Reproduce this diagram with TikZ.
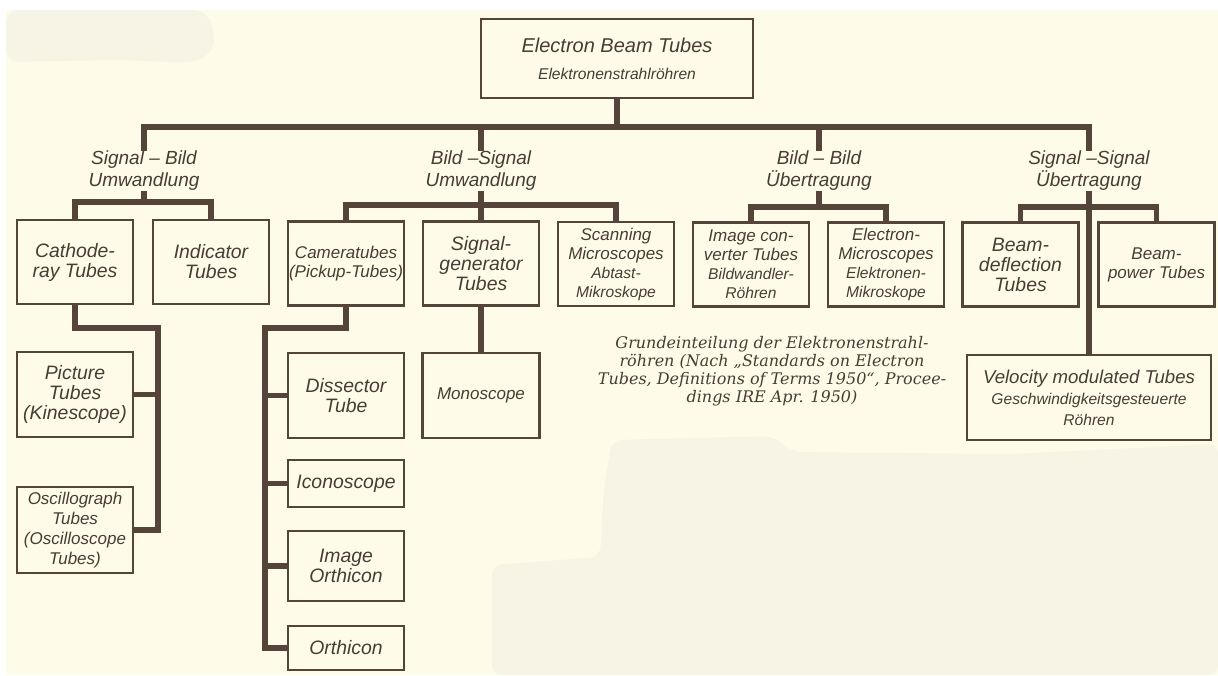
\documentclass[tikz,border=0pt]{standalone}
\usepackage{fontspec}
\setmainfont{Liberation Sans}
\newfontfamily\capfont{DejaVu Serif}
\definecolor{ink}{HTML}{54443A}
\definecolor{lettering}{HTML}{483C35}
\definecolor{paper}{HTML}{FEFCE9}
\definecolor{stain}{HTML}{F7F4E5}
\newcommand{\subtxt}[1]{{\fontsize{7.8}{9}\selectfont #1}}
\begin{document}
\begin{tikzpicture}
	[x=0.5pt,y=-0.5pt,
	tube/.style={draw=ink,line width=1.1pt,align=center,inner sep=0pt,text=lettering,minimum width=58pt,minimum height=42pt,font=\fontsize{9.7}{10}\selectfont\itshape},
	packed/.style={font=\fontsize{8.5}{9.5}\selectfont\itshape},
	group/.style={align=center,inner sep=0pt,text=lettering,font=\fontsize{9.5}{11}\selectfont\itshape},
	conn/.style={draw=ink,line width=2.6pt}]
	% paper
	\fill[white] (0,0) rectangle (1218,675);
	\fill[paper] (6,10) rectangle (1218,675);
	\fill[stain,rounded corners=6pt] (6,10) -- (205,10) -- (215,30) -- (212,55) -- (190,63) -- (120,60) -- (6,62) -- cycle;
	\fill[stain,rounded corners=5pt] (612,440) -- (773,436) -- (792,452) -- (1010,454) -- (1218,444) -- (1218,675) -- (492,675) -- (492,565) -- (600,557) -- (604,487) -- cycle;
	\useasboundingbox (0,0) rectangle (1218,675);
	% boxes
	\node[tube,name=top,minimum width=136pt,minimum height=39.5pt,font=\fontsize{10}{13.5}\selectfont\itshape] at (617,58.5) {Electron Beam Tubes\\\subtxt{Elektronenstrahlröhren}};
	\node[group,name=sigbild] at (144,171) {Signal -- Bild\\Umwandlung};
	\node[group,name=bildsig] at (481,171) {Bild --Signal\\Umwandlung};
	\node[group,name=bildbild] at (819,171) {Bild -- Bild\\Übertragung};
	\node[group,name=sigsig] at (1089,171) {Signal --Signal\\Übertragung};
	\node[tube,name=cathode] at (75,262) {Cathode-\\ray Tubes};
	\node[tube,name=indicator] at (211,262) {Indicator\\Tubes};
	\node[tube,name=camera,packed] at (346,263.5) {Cameratubes\\(Pickup-Tubes)};
	\node[tube,name=siggen] at (481,263.5) {Signal-\\generator\\Tubes};
	\node[tube,name=scanning,packed] at (616,264) {Scanning\\Microscopes\\\subtxt{Abtast-}\\\subtxt{Mikroskope}};
	\node[tube,name=imgconv,packed] at (751,264.5) {Image con-\\verter Tubes\\\subtxt{Bildwandler-}\\\subtxt{Röhren}};
	\node[tube,name=elmicro,packed] at (886,264.5) {Electron-\\Microscopes\\\subtxt{Elektronen-}\\\subtxt{Mikroskope}};
	\node[tube,name=beamdefl] at (1020.5,264.5) {Beam-\\deflection\\Tubes};
	\node[tube,name=beampower,packed] at (1156.5,264.5) {Beam-\\power Tubes};
	\node[tube,name=picture,minimum height=42.5pt] at (75,394.5) {Picture\\Tubes\\(Kinescope)};
	\node[tube,name=oscillo,minimum height=43pt,packed,font=\fontsize{8.5}{10}\selectfont\itshape] at (75,530) {Oscillograph\\Tubes\\(Oscilloscope\\Tubes)};
	\node[tube,name=dissector,minimum height=42.5pt] at (346,395.5) {Dissector\\Tube};
	\node[tube,name=iconoscope,minimum height=23.5pt] at (346,483.5) {Iconoscope};
	\node[tube,name=imgorth,minimum height=35pt] at (346,566) {Image\\Orthicon};
	\node[tube,name=orthicon,minimum height=22pt] at (346,648) {Orthicon};
	\node[tube,name=monoscope,minimum width=58.5pt,minimum height=42.5pt,packed] at (481,395.5) {Monoscope};
	\node[tube,name=velocity,minimum width=122pt,minimum height=42.5pt,font=\fontsize{9.3}{10.5}\selectfont\itshape] at (1089,397.5) {Velocity modulated Tubes\\\subtxt{Geschwindigkeitsgesteuerte}\\\subtxt{Röhren}};
	\node[name=caption,align=center,inner sep=0pt,text=lettering,font=\capfont\itshape\fontsize{8}{9}\selectfont] at (772,371)
		{Grundeinteilung der Elektronenstrahl-\\röhren (Nach „Standards on Electron\\Tubes, Definitions of Terms 1950“, Procee-\\dings IRE Apr. 1950)};
	% connectors
	\coordinate (trunk) at (617,127);
	\coordinate (sbjoin) at (144,202);
	\coordinate (bsjoin) at (481,205);
	\coordinate (bbjoin) at (819,207);
	\coordinate (ssjoin) at (1089,207);
	\coordinate (crbus) at (158,328);
	\coordinate (ctbus) at (265,328);
	\draw[conn] (top.south) -- (trunk);
	\draw[conn] (sigbild.north) |- (trunk);
	\draw[conn] (bildsig.north) |- (trunk);
	\draw[conn] (bildbild.north) |- (trunk);
	\draw[conn] (sigsig.north) |- (trunk);
	\draw[conn] (sigbild.south) -- (sbjoin);
	\draw[conn] (cathode.north) |- (sbjoin) -| (indicator.north);
	\draw[conn] (camera.north) |- (bsjoin) -| (scanning.north);
	\draw[conn] (bildsig.south) -- (siggen.north);
	\draw[conn] (bildbild.south) -- (bbjoin);
	\draw[conn] (imgconv.north) |- (bbjoin) -| (elmicro.north);
	\draw[conn] (beamdefl.north) |- (ssjoin) -| (beampower.north);
	\draw[conn] (sigsig.south) -- (velocity.north);
	\draw[conn] (cathode.south) |- (crbus) |- (oscillo.east);
	\draw[conn] (picture.east) -- (picture.east -| crbus);
	\draw[conn] (camera.south) |- (ctbus) |- (orthicon.west);
	\draw[conn] (dissector.west) -- (dissector.west -| ctbus);
	\draw[conn] (iconoscope.west) -- (iconoscope.west -| ctbus);
	\draw[conn] (imgorth.west) -- (imgorth.west -| ctbus);
	\draw[conn] (siggen.south) -- (monoscope.north);
\end{tikzpicture}
\end{document}
